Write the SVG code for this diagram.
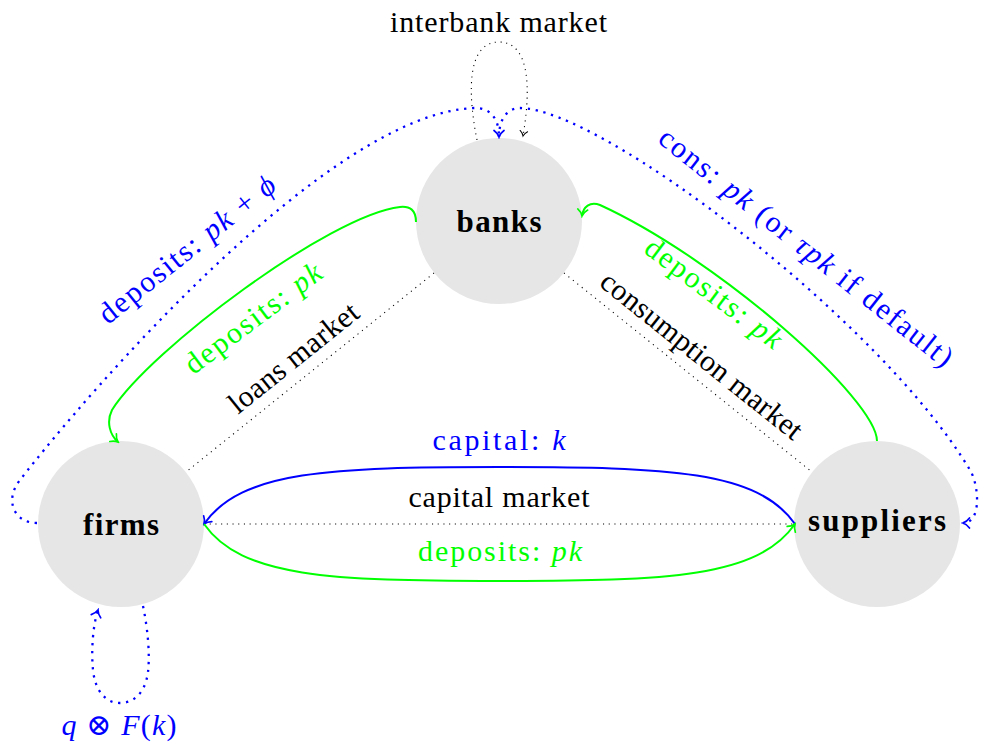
<svg xmlns="http://www.w3.org/2000/svg" width="981" height="746" viewBox="0 0 981 746">
<style>
.node{fill:#e6e6e6}
.t{font-family:"Liberation Serif","DejaVu Serif",serif;font-size:30px}
.nb{font-family:"Liberation Serif","DejaVu Serif",serif;font-size:31px;font-weight:bold;fill:#000}
.k{fill:#000}.bl{fill:#0000ff}.gr{fill:#00ff00}
.i{font-style:italic}
.dotk{fill:none;stroke:#000;stroke-width:1.1;stroke-dasharray:1.1 4.6}
.dotb{fill:none;stroke:#0000ff;stroke-width:2.3;stroke-dasharray:2.3 5.7}
.solb{fill:none;stroke:#0000ff;stroke-width:2}
.solg{fill:none;stroke:#00ff00;stroke-width:2}
</style>
<defs>
<marker id="ab" viewBox="-9 -7 11 14" markerWidth="11" markerHeight="14" refX="0" refY="0" orient="auto" markerUnits="userSpaceOnUse">
<path d="M-6.5,-5 C-4.5,-2.2 -1.8,-0.6 0,0 C-1.8,0.6 -4.5,2.2 -6.5,5" fill="none" stroke="#0000ff" stroke-width="1.7" stroke-linecap="round"/>
</marker>
<marker id="ag" viewBox="-9 -7 11 14" markerWidth="11" markerHeight="14" refX="0" refY="0" orient="auto" markerUnits="userSpaceOnUse">
<path d="M-6.5,-5 C-4.5,-2.2 -1.8,-0.6 0,0 C-1.8,0.6 -4.5,2.2 -6.5,5" fill="none" stroke="#00ff00" stroke-width="1.7" stroke-linecap="round"/>
</marker>
<marker id="ak" viewBox="-8 -6 10 12" markerWidth="10" markerHeight="12" refX="0" refY="0" orient="auto" markerUnits="userSpaceOnUse">
<path d="M-5,-3.8 C-3.5,-1.7 -1.4,-0.5 0,0 C-1.4,0.5 -3.5,1.7 -5,3.8" fill="none" stroke="#000" stroke-width="1" stroke-linecap="round"/>
</marker>
</defs>

<g id="banks"><circle class="node" cx="499" cy="221" r="83"/><text class="nb" x="499" y="232" text-anchor="middle" textLength="85">banks</text></g>
<g id="firms"><circle class="node" cx="121" cy="524" r="83"/><text class="nb" x="121" y="535" text-anchor="middle" textLength="76">firms</text></g>
<g id="suppliers"><circle class="node" cx="877" cy="524" r="83"/><text class="nb" x="877" y="531" text-anchor="middle" textLength="138">suppliers</text></g>

<g id="connectors">
<line class="dotk" x1="434" y1="273" x2="186" y2="472"/>
<line class="dotk" x1="564" y1="273" x2="812" y2="472"/>
<line class="dotk" x1="204" y1="524" x2="795" y2="524"/>
<path class="dotk" d="M477,140 C468,95 466,42 499,42 C532,42 530,95 523,136" marker-end="url(#ak)"/>
<path class="solb" d="M795,524 C757.7,470.8 669,467 499.5,467 C330,467 241.3,470.8 204,524" marker-end="url(#ab)"/>
<path class="solg" d="M204,524 C241.3,577.2 330,581 499.5,581 C669,581 757.7,577.2 795,524" marker-end="url(#ag)"/>
<path class="solg" d="M416,222 C416,210 410,206 400,207 C330,215 150,350 112,410 C106,422 110,435 118,442" marker-end="url(#ag)"/>
<path class="solg" d="M877,441 C877,400 720,260 600,205 C590,201 583,207 582,216" marker-end="url(#ag)"/>
<path class="dotb" d="M37,523 C14,523 4,500 20,480 C90,390 330,112 475,108 C490,108 499,118 499,137" marker-end="url(#ab)"/>
<path class="dotb" d="M499,137 C499,118 508,108 520,108 C600,108 880,320 970,470 C979,485 982,523 963,523" marker-end="url(#ab)"/>
<path class="dotb" d="M143,606 C148,630 150,655 148,672 C145,695 132,703 120,703 C105,703 95,690 93,670 C91,650 93,625 98,610" marker-end="url(#ab)"/>
</g>

<g id="labels">
<text class="t k" x="498.5" y="32" text-anchor="middle" textLength="217">interbank market</text>
<text class="t bl" x="499" y="450" text-anchor="middle" textLength="133">capital: <tspan class="i">k</tspan></text>
<text class="t k" x="499" y="507" text-anchor="middle" textLength="181">capital market</text>
<text class="t gr" x="500" y="561" text-anchor="middle" textLength="164">deposits: <tspan class="i">pk</tspan></text>
<text class="t bl" x="119" y="735" text-anchor="middle" textLength="115"><tspan class="i">q</tspan> ⊗ <tspan class="i">F</tspan>(<tspan class="i">k</tspan>)</text>
<text class="t k" transform="translate(299.6,365.4) rotate(-38.7)" text-anchor="middle" textLength="158">loans market</text>
<text class="t gr" transform="translate(259,326) rotate(-37)" text-anchor="middle" textLength="164">deposits: <tspan class="i">pk</tspan></text>
<text class="t bl" transform="translate(193,257) rotate(-38.7)" text-anchor="middle" textLength="218">deposits: <tspan class="i">pk</tspan> + <tspan class="i">ϕ</tspan></text>
<text class="t k" transform="translate(695.5,363.1) rotate(38.7)" text-anchor="middle" textLength="250">consumption market</text>
<text class="t gr" transform="translate(708,301) rotate(37)" text-anchor="middle" textLength="164">deposits: <tspan class="i">pk</tspan></text>
<text class="t bl" transform="translate(800,255) rotate(38.3)" text-anchor="middle" textLength="366">cons: <tspan class="i">pk</tspan> (or <tspan class="i">τpk</tspan> if default)</text>
</g>
</svg>
